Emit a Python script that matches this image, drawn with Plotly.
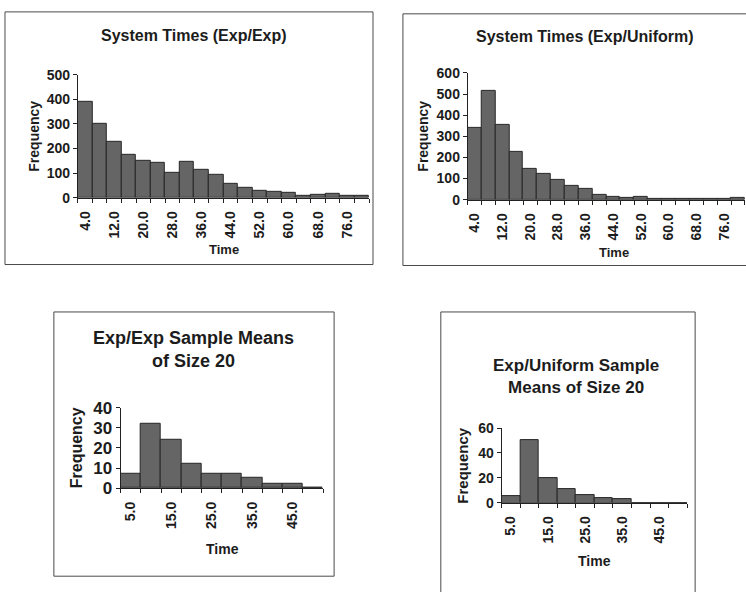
import plotly.graph_objects as go

# ---------------- data ----------------
sys_categories = [4.0, 8.0, 12.0, 16.0, 20.0, 24.0, 28.0, 32.0, 36.0, 40.0,
                  44.0, 48.0, 52.0, 56.0, 60.0, 64.0, 68.0, 72.0, 76.0, 80.0]
sys_tick_labels = ["4.0", "12.0", "20.0", "28.0", "36.0", "44.0", "52.0", "60.0", "68.0", "76.0"]
freq_exp_exp = [390, 301, 227, 173, 149, 142, 101, 145, 114, 95,
                56, 39, 27, 23, 19, 8, 13, 17, 6, 8]
freq_exp_unif = [341, 516, 355, 224, 148, 120, 96, 67, 50, 24,
                 15, 7, 13, 6, 5, 3, 3, 3, 3, 10]

mean_categories = [5.0, 10.0, 15.0, 20.0, 25.0, 30.0, 35.0, 40.0, 45.0, 50.0]
mean_tick_labels = ["5.0", "15.0", "25.0", "35.0", "45.0"]
freq_means_exp_exp = [7, 32, 24, 12, 7, 7, 5, 2, 2, 0]
freq_means_exp_unif = [5, 50, 20, 11, 6, 4, 3, 0, 0, 0]

titles = ["System Times (Exp/Exp)", "System Times (Exp/Uniform)",
          "Exp/Exp Sample Means<br>of Size 20", "Exp/Uniform Sample<br>Means of Size 20"]

# ---------------- layout helpers ----------------
W, H = 746, 592
FONT = "Liberation Sans, Arial, sans-serif"
INK = "#1c1c1c"


def fx(x):
    return x / W


def fy(y):
    return 1 - y / H


panels = [
    dict(cats=sys_categories, vals=freq_exp_exp, labels=sys_tick_labels, ymax=500, ydt=100,
         plot=(76, 68, 368, 195), frame=(3, 3, 372, 264), title=(193, 27, 16),
         ytitle=(32, 131, 14), xtitle=(223, 248, 13), ytick=14, xtick=14),
    dict(cats=sys_categories, vals=freq_exp_unif, labels=sys_tick_labels, ymax=600, ydt=100,
         plot=(467, 66, 745, 197), frame=(402, 5, 760, 265), title=(585, 28, 16),
         ytitle=(422, 131, 14), xtitle=(614, 252, 13), ytick=14, xtick=14),
    dict(cats=mean_categories, vals=freq_means_exp_exp, labels=mean_tick_labels, ymax=40, ydt=10,
         plot=(119, 412, 322, 495), frame=(52, 313, 333, 586), title=(192, 352, 18),
         ytitle=(75, 453, 16), xtitle=(221, 558, 14), ytick=17, xtick=14),
    dict(cats=mean_categories, vals=freq_means_exp_unif, labels=mean_tick_labels, ymax=60, ydt=20,
         plot=(501, 433, 687, 510), frame=(440, 313, 695, 620), title=(576, 380, 17),
         ytitle=(462, 471, 15), xtitle=(594, 570, 14), ytick=14, xtick=14),
]

fig = go.Figure()
annotations = []
shapes = []

for i, p in enumerate(panels):
    n = "" if i == 0 else str(i + 1)
    cats = p["cats"]
    step = cats[1] - cats[0]
    fig.add_trace(go.Bar(
        x=cats, y=p["vals"], width=step,
        marker=dict(color="#656565", line=dict(color="#262626", width=1)),
        xaxis="x" + n, yaxis="y" + n, showlegend=False, hoverinfo="x+y"))

    x0, y0, x1, y1 = p["plot"]
    label_vals = [c for c in cats if f"{c:.1f}" in p["labels"]]
    fig.update_layout(**{
        "xaxis" + n: dict(
            domain=[fx(x0), fx(x1)], anchor="y" + n,
            range=[cats[0] - step / 2, cats[-1] + step / 2],
            tickmode="array", tickvals=label_vals, ticktext=p["labels"],
            tickangle=-90, ticks="", ticklabelstandoff=7,
            minor=dict(tick0=cats[0] - step / 2, dtick=step, ticks="outside",
                       ticklen=4, tickcolor="#222", tickwidth=1, showgrid=False),
            showline=True, linecolor="#222", linewidth=1, showgrid=False, zeroline=False,
            tickfont=dict(family=FONT, size=p["xtick"], color=INK, weight="bold"),
            fixedrange=True),
        "yaxis" + n: dict(
            domain=[fy(y1), fy(y0)], anchor="x" + n,
            range=[0, p["ymax"]], dtick=p["ydt"], tick0=0,
            ticks="outside", ticklen=4, tickcolor="#222", tickwidth=1,
            showline=True, linecolor="#222", linewidth=1, showgrid=False, zeroline=False,
            tickfont=dict(family=FONT, size=p["ytick"], color=INK, weight="bold"),
            fixedrange=True),
    })

    tx, ty, ts = p["title"]
    annotations.append(dict(text=titles[i], x=fx(tx), y=fy(ty), xref="paper", yref="paper",
                            showarrow=False, xanchor="center", yanchor="middle",
                            font=dict(family=FONT, size=ts, color=INK, weight="bold")))
    ax_, ay_, as_ = p["ytitle"]
    annotations.append(dict(text="Frequency", x=fx(ax_), y=fy(ay_), xref="paper", yref="paper",
                            showarrow=False, textangle=-90, xanchor="center", yanchor="middle",
                            font=dict(family=FONT, size=as_, color=INK, weight="bold")))
    bx, by, bs = p["xtitle"]
    annotations.append(dict(text="Time", x=fx(bx), y=fy(by), xref="paper", yref="paper",
                            showarrow=False, xanchor="center", yanchor="middle",
                            font=dict(family=FONT, size=bs, color=INK, weight="bold")))
    fx0, fy0, fx1, fy1 = p["frame"]
    shapes.append(dict(type="rect", xref="paper", yref="paper",
                       x0=fx(fx0), x1=fx(fx1), y0=fy(fy1), y1=fy(fy0),
                       line=dict(color="#4a4a4a", width=1), fillcolor="rgba(0,0,0,0)"))

fig.update_layout(
    width=W, height=H, margin=dict(l=0, r=0, t=0, b=0),
    paper_bgcolor="white", plot_bgcolor="white",
    bargap=0, annotations=annotations, shapes=shapes,
    font=dict(family=FONT, color=INK),
)

fig.write_html("out.html")
